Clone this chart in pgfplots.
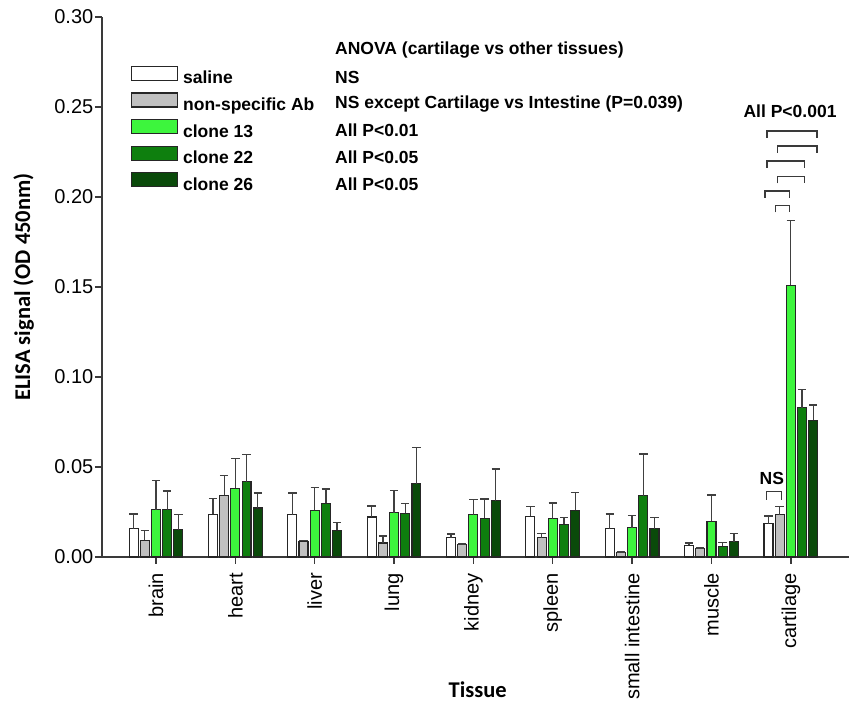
\documentclass[border=0pt]{standalone}
\usepackage{pgfplots}
\usepackage{pgfplotstable}
\pgfplotsset{compat=1.18}
\usepackage{fontspec}
\setmainfont{Liberation Sans}
\newfontfamily\labfont{Carlito}

\definecolor{axgray}{HTML}{3A3A3A}
\definecolor{errgray}{HTML}{404040}
\definecolor{nsab}{HTML}{C0C0C0}
\definecolor{cl13}{HTML}{3DF53D}
\definecolor{cl22}{HTML}{0E7F0E}
\definecolor{cl26}{HTML}{0A4A0A}

% x  mean/err for each group
\pgfplotstableread{
x sal salE ns nsE c13 c13E c22 c22E c26 c26E
1 0.0157 0.0083 0.0093 0.0055 0.0263 0.0163 0.0263 0.0102 0.0152 0.0083
2 0.0237 0.0087 0.0343 0.0109 0.0383 0.0165 0.0419 0.0150 0.0272 0.0082
3 0.0235 0.0119 0.0087 0.0005 0.0259 0.0128 0.0298 0.0080 0.0148 0.0043
4 0.0222 0.0061 0.0078 0.0037 0.0246 0.0123 0.0243 0.0055 0.0406 0.0203
5 0.0107 0.0021 0.0067 0.0004 0.0235 0.0085 0.0215 0.0107 0.0313 0.0176
6 0.0226 0.0055 0.0107 0.0024 0.0213 0.0087 0.0181 0.0038 0.0259 0.0100
7 0.0157 0.0082 0.0024 0.0004 0.0163 0.0067 0.0341 0.0231 0.0157 0.0062
8 0.0065 0.0013 0.0046 0.0004 0.0198 0.0145 0.0059 0.0021 0.0085 0.0045
9 0.0185 0.0043 0.0235 0.0046 0.1509 0.0361 0.0830 0.0101 0.0759 0.0084
}\elisa

\newcommand{\brk}[4]{\draw[axgray, line width=1.4pt] (axis cs:#1,#4) -- (axis cs:#1,#3) -- (axis cs:#2,#3) -- (axis cs:#2,#4);}

\begin{document}
\begin{tikzpicture}
\begin{axis}[
  name=ax,
  scale only axis, width=747pt, height=540pt,
  xmin=0.3195, xmax=9.733, ymin=0, ymax=0.30,
  axis x line=bottom, axis y line=left,
  axis line style={-, line width=1.4pt, axgray},
  tick align=outside, major tick length=7pt,
  tick style={line width=1.4pt, axgray},
  xtick={1,...,9},
  xticklabels={brain,heart,liver,lung,kidney,spleen,small intestine,muscle,cartilage},
  x tick label style={rotate=90, anchor=east, font=\fontsize{20}{22}\selectfont, inner sep=2pt},
  xticklabel shift=7pt,
  ytick={0,0.05,0.10,0.15,0.20,0.25,0.30},
  yticklabel style={font=\fontsize{20}{22}\selectfont, inner sep=1.5pt,
    /pgf/number format/.cd, fixed, fixed zerofill, precision=2, assume math mode=true},
  ylabel={\labfont\bfseries ELISA signal (OD 450nm)},
  ylabel style={at={(axis description cs:-0.105,0.5)}, anchor=center, font=\fontsize{22.5}{25}\selectfont},
  xlabel={\labfont\bfseries Tissue},
  xlabel style={at={(axis description cs:0.503,-0.246)}, anchor=center, font=\fontsize{22.5}{25}\selectfont},
  ybar, bar width=0.113,
  every axis plot/.append style={draw=black!85, line width=1.1pt,
    legend image code/.code={\draw[##1] (0pt,-1pt) rectangle (46pt,13pt);}},
  error bars/y dir=plus, error bars/y explicit,
  error bars/error mark=|,
  error bars/error mark options={line width=1.6pt, mark size=4.2pt, errgray},
  error bars/error bar style={line width=1.3pt, errgray},
  legend style={at={(axis description cs:0.0388,0.910)}, anchor=north west,
    draw=none, fill=none, inner sep=0pt,
    font=\fontsize{17.5}{20}\selectfont\bfseries,
    nodes={inner sep=0pt, text height=13pt, text depth=4pt},
    row sep=4.6pt},
  legend cell align=left,
  clip=false,
]
\addplot[fill=white, bar shift=-0.282] table[x=x, y=sal, y error=salE] {\elisa};
\addplot[fill=nsab, bar shift=-0.141] table[x=x, y=ns, y error=nsE] {\elisa};
\addplot[fill=cl13, bar shift=0] table[x=x, y=c13, y error=c13E] {\elisa};
\addplot[fill=cl22, bar shift=0.141] table[x=x, y=c22, y error=c22E] {\elisa};
\addplot[fill=cl26, bar shift=0.282] table[x=x, y=c26, y error=c26E] {\elisa};
\legend{\ saline,\ non-specific Ab,\ clone 13,\ clone 22,\ clone 26}

% significance brackets on cartilage
\brk{8.70}{9.33}{0.2367}{0.2330}
\brk{8.83}{9.33}{0.2283}{0.2246}
\brk{8.70}{9.17}{0.2200}{0.2163}
\brk{8.83}{9.17}{0.2113}{0.2076}
\brk{8.675}{8.98}{0.2033}{0.1996}
\brk{8.81}{8.98}{0.1952}{0.1915}
\brk{8.695}{8.884}{0.0363}{0.0317}
\node[font=\fontsize{17.5}{20}\selectfont\bfseries] at (axis cs:8.99,0.2474) {All P<0.001};
\node[font=\fontsize{17.5}{20}\selectfont\bfseries] at (axis cs:8.76,0.0439) {NS};
\end{axis}

% ANOVA column
\begin{scope}[every node/.style={anchor=west, inner sep=0pt, font=\fontsize{17.5}{20}\selectfont\bfseries}]
\node at ([shift={(233pt,507pt)}]ax.south west) {ANOVA (cartilage vs other tissues)};
\node at ([shift={(233pt,480pt)}]ax.south west) {NS};
\node at ([shift={(233pt,453pt)}]ax.south west) {NS except Cartilage vs Intestine (P=0.039)};
\node at ([shift={(233pt,427pt)}]ax.south west) {All P<0.01};
\node at ([shift={(233pt,400pt)}]ax.south west) {All P<0.05};
\node at ([shift={(233pt,373pt)}]ax.south west) {All P<0.05};
\end{scope}

\pgfresetboundingbox
\path[use as bounding box] ([shift={(-102pt,-146pt)}]ax.south west) rectangle ([shift={(747pt,557pt)}]ax.south west);
\end{tikzpicture}
\end{document}
